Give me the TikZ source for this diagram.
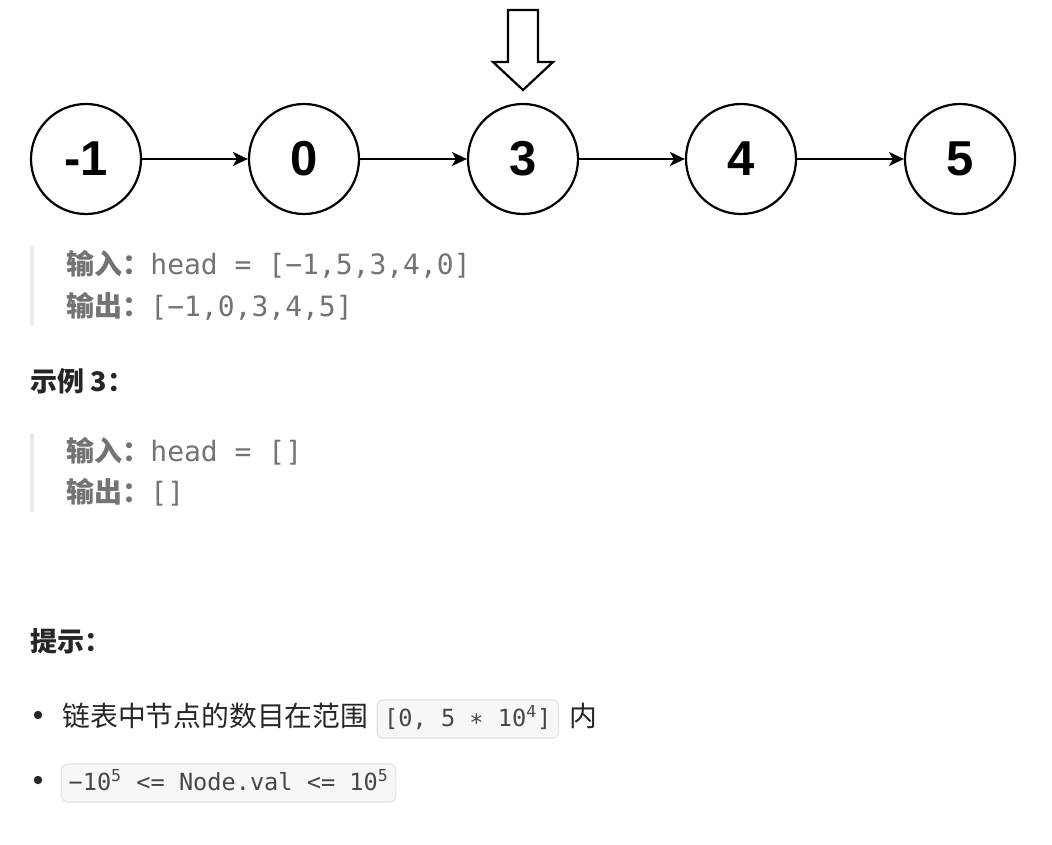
\documentclass[tikz,border=0pt]{standalone}
\usepackage{fontspec}
\setmainfont{Liberation Sans}
\setmonofont{DejaVu Sans Mono}
\newfontfamily\cjk{Noto Sans CJK SC}
\usetikzlibrary{arrows.meta,positioning}

\definecolor{quotegray}{HTML}{737373}
\definecolor{headdark}{HTML}{262626}
\definecolor{barlight}{HTML}{EBEBEB}
\definecolor{boxfill}{HTML}{F7F7F7}
\definecolor{boxline}{HTML}{E3E3E3}

\tikzset{
  listnode/.style={draw, circle, line width=1.1pt, minimum size=55pt, inner sep=0pt,
    font=\fontsize{24.5}{28}\selectfont\bfseries},
  nextarrow/.style={line width=1.1pt, -{Stealth[length=7.5pt,width=7pt,inset=2pt]}},
  quoteline/.style={anchor=base west, inner sep=0pt, text=quotegray,
    font=\fontsize{14}{16}\selectfont},
  heading/.style={anchor=base west, inner sep=0pt, text=headdark,
    font=\fontsize{13.5}{16}\selectfont\cjk\bfseries},
  bodytext/.style={anchor=base west, inner sep=0pt, text=headdark,
    font=\fontsize{13.9}{17}\selectfont\cjk},
  codebox/.style={draw=boxline, fill=boxfill, rounded corners=3pt, line width=0.6pt,
    inner xsep=3.5pt, inner ysep=3pt, text height=10pt, text depth=3pt, text=headdark!85,
    font=\fontsize{11.8}{14}\selectfont\ttfamily}
}

\begin{document}
\begin{tikzpicture}[x=0.5pt, y=-0.5pt]
\useasboundingbox (0,0) rectangle (1052,844);

% Drawing the list
\node[listnode] (n1) at (86,159) {-1};
\node[listnode] (n2) at (304,159) {0};
\node[listnode] (n3) at (523,159) {3};
\node[listnode] (n4) at (741,159) {4};
\node[listnode] (n5) at (960,159) {5};

\draw[nextarrow] (n1) -- (n2);
\draw[nextarrow] (n2) -- (n3);
\draw[nextarrow] (n3) -- (n4);
\draw[nextarrow] (n4) -- (n5);

% Drawing the pointer over node 3
\draw[line width=1.1pt, fill=white, line join=miter]
  (508,10) -- (538,10) -- (538,62) -- (553,62) -- (523,90) -- (493,62) -- (508,62) -- cycle;

% Example 2 output
\fill[barlight] (30,247) rectangle (34,326);
\node[quoteline] (in2) at (66,275) {{\cjk\bfseries 输入：}\texttt{head = [−1,5,3,4,0]}};
\node[quoteline] (out2) at (66,316) {{\cjk\bfseries 输出：}\texttt{[−1,0,3,4,5]}};

% Example 3
\node[heading] (ex3) at (30,391) {示例 3：};
\fill[barlight] (30,433) rectangle (34,512);
\node[quoteline] (in3) at (66,461) {{\cjk\bfseries 输入：}\texttt{head = []}};
\node[quoteline] (out3) at (66,502) {{\cjk\bfseries 输出：}\texttt{[]}};

% Hints
\node[heading] (hint) at (30,651) {提示：};

\fill[headdark] (38,715) circle (4.2);
\node[bodytext] (t1) at (62,726) {链表中节点的数目在范围};
\node[codebox, anchor=base west] (c1) at ([xshift=4pt]t1.base east) {[0, 5 ∗ 10\textsuperscript{4}]};
\node[bodytext] (t2) at ([xshift=5pt]c1.base east) {内};

\fill[headdark] (38,780) circle (4.2);
\node[codebox, anchor=base west] (c2) at (61,790) {−10\textsuperscript{5} <= Node.val <= 10\textsuperscript{5}};

\end{tikzpicture}
\end{document}
